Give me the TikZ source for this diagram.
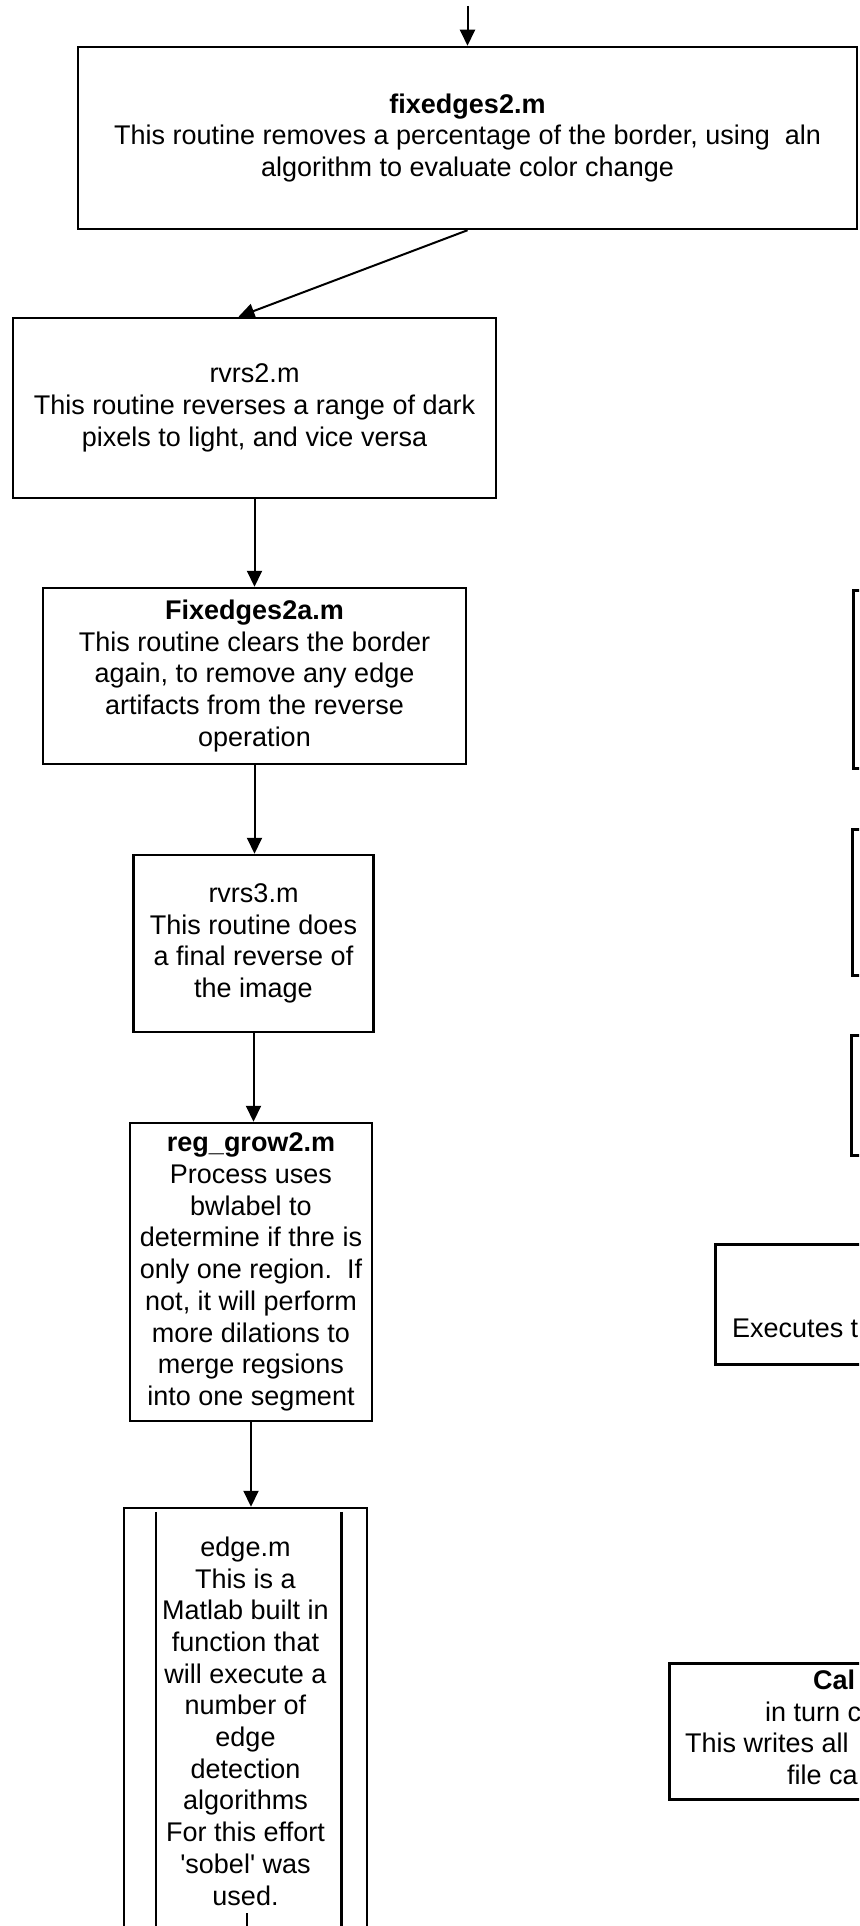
\documentclass[tikz,border=0pt]{standalone}
\usepackage{fontspec}
\newfontfamily\boxfamily{Liberation Sans}
\usepackage{tikz}
\usetikzlibrary{arrows.meta}

\newcommand{\boxfont}{\boxfamily\fontsize{27}{31.7}\selectfont}

\tikzset{
  routine/.style={draw, line width=2.5pt, align=center, inner sep=0pt, font=\boxfont},
  sidebox/.style={draw, line width=2.5pt, anchor=north west, inner sep=0pt},
  sidetext/.style={anchor=base west, inner sep=0pt, font=\boxfont},
  flow/.style={->, line width=2pt},
}

\begin{document}
\begin{tikzpicture}[x=1pt, y=-1pt, >={Triangle[width=15pt,length=16pt]}]
      \useasboundingbox (0,0) rectangle (859,1926);
      \clip (0,0) rectangle (859,1926);
      % main column
      \node[routine, minimum width=779pt, minimum height=182pt] (fix1) at (467.5,138)
        {\textbf{fixedges2.m}\\This routine removes a percentage of the border, using\ \ aln\\algorithm to evaluate color change};
      \node[routine, minimum width=483pt, minimum height=180pt] (rvrs2) at (254.5,408)
        {rvrs2.m\\This routine reverses a range of dark\\pixels to light, and vice versa};
      \node[routine, minimum width=423pt, minimum height=176pt] (fix2a) at (254.5,676)
        {\textbf{Fixedges2a.m}\\This routine clears the border\\again, to remove any edge\\artifacts from the reverse\\operation};
      \node[routine, minimum width=240pt, minimum height=177pt] (rvrs3) at (253.5,943.5)
        {rvrs3.m\\This routine does\\a final reverse of\\the image};
      \node[routine, minimum width=242pt, minimum height=298pt] (reggrow) at (251,1272)
        {\textbf{reg\_grow2.m}\\Process uses\\bwlabel to\\determine if thre is\\only one region.\ \ If\\not, it will perform\\more dilations to\\merge regsions\\into one segment};
      \node[routine, minimum width=243pt, minimum height=426pt] (edge) at (245.5,1721)
        {edge.m\\This is a\\Matlab built in\\function that\\will execute a\\number of\\edge\\detection\\algorithms\\For this effort\\'sobel' was\\used.};
      \draw[line width=2.5pt] ([xshift=33pt,yshift=-5pt]edge.north west) -- ([xshift=33pt]edge.south west);
      \draw[line width=2.5pt] ([xshift=-27pt,yshift=-5pt]edge.north east) -- ([xshift=-27pt]edge.south east);

      % boxes cut off at the right edge
      \node[sidebox, minimum width=200pt, minimum height=178pt] (sideA) at (852,589) {};
      \node[sidebox, minimum width=200pt, minimum height=146pt] (sideB) at (851,828) {};
      \node[sidebox, minimum width=200pt, minimum height=120pt] (sideC) at (850,1034) {};
      \node[sidebox, minimum width=300pt, minimum height=120pt] (sideD) at (714,1243) {};
      \node[sidebox, minimum width=400pt, minimum height=136pt] (sideE) at (668,1662) {};
      \node[sidetext] (execT) at (732,1337) {Executes t};
      \node[sidetext] (calT) at (813,1689) {\textbf{Cal}};
      \node[sidetext] (turnT) at (765,1721) {in turn c};
      \node[sidetext] (writeT) at (685,1752) {This writes all};
      \node[sidetext] (fileT) at (787,1784) {file ca};

      % connectors
      \coordinate (entry) at (467.5,6);
      \coordinate (edgeout) at (247,1913);
      \draw[flow] (entry) -- (fix1.north);
      \draw[flow] (fix1.south) -- ([xshift=-16pt]rvrs2.north);
      \draw[flow] (rvrs2.south) -- (fix2a.north);
      \draw[flow] (fix2a.south) -- (fix2a.south |- rvrs3.north);
      \draw[flow] (rvrs3.south) -- (rvrs3.south |- reggrow.north);
      \draw[flow] (reggrow.south) -- (reggrow.south |- edge.north);
      \draw[line width=2pt] (edgeout) -- (edgeout |- edge.south);
    \end{tikzpicture}
\end{document}
